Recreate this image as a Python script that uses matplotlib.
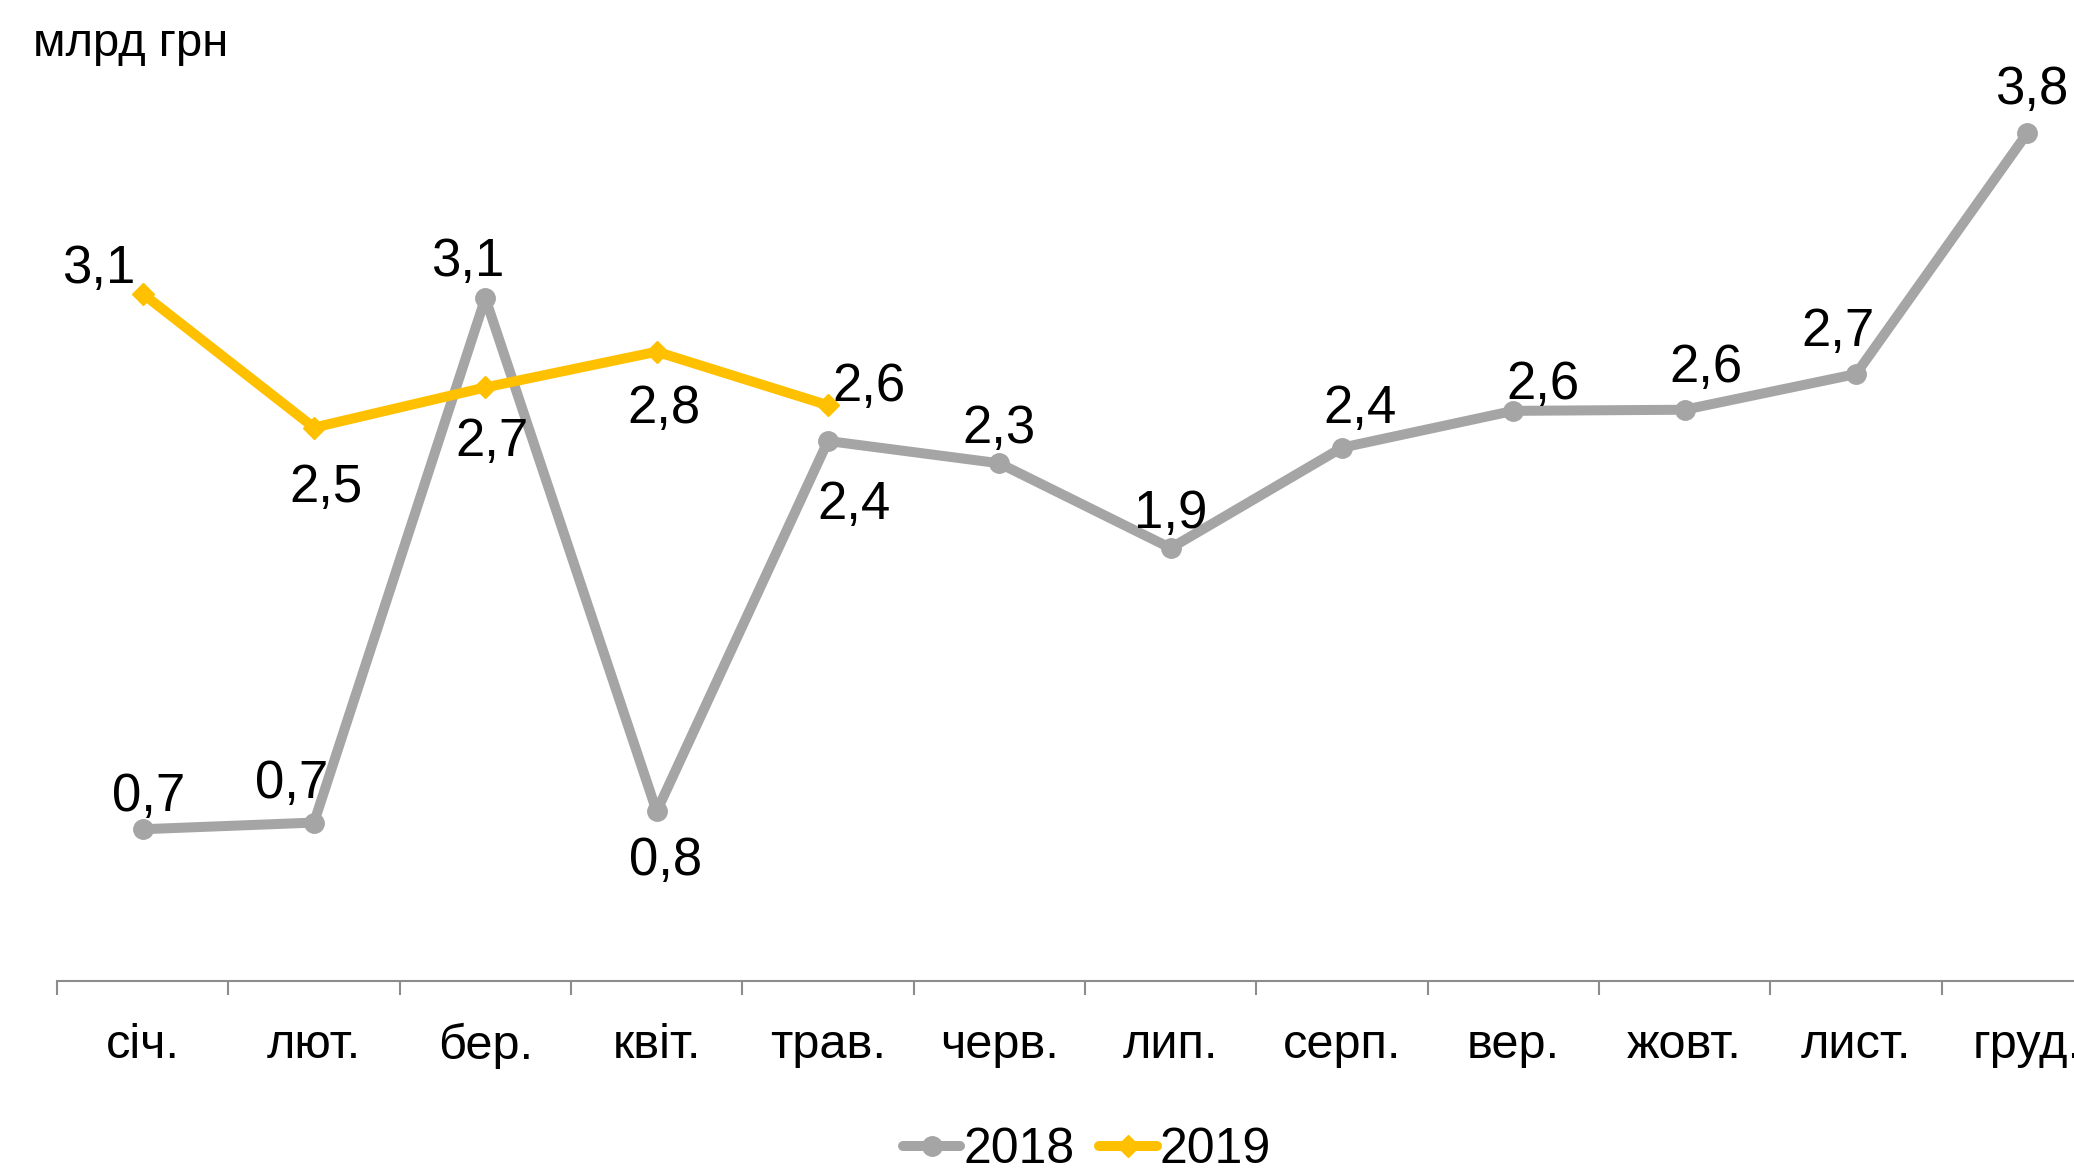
import numpy as np
import matplotlib
matplotlib.use("Agg")
import matplotlib.pyplot as plt

plt.rcParams['font.family'] = ['Liberation Sans', 'DejaVu Sans']

# Data (billions UAH)
months = ['січ.', 'лют.', 'бер.', 'квіт.', 'трав.', 'черв.',
          'лип.', 'серп.', 'вер.', 'жовт.', 'лист.', 'груд.']
values_2018 = [0.68, 0.71, 3.06, 0.76, 2.42, 2.32, 1.94, 2.39, 2.555, 2.56, 2.72, 3.80]
values_2019 = [3.08, 2.48, 2.66, 2.82, 2.58]
unit_label = 'млрд грн'

# label offsets in pixels (dx, dy), dy positive = up
offs_2018 = [(6, 40), (-22, 47), (-18, 44), (9, -42), (26, -56), (0, 42),
             (0, 42), (18, 47), (30, 34), (21, 50), (-18, 50), (4, 51)]
offs_2019 = [(-44, 33), (12, -52), (7, -47), (7, -49), (41, 26)]
LABEL_SHIFT = -8  # small vertical correction for the comma descent

GRAY = '#A5A5A5'
YELLOW = '#FFC000'
FS_LABEL = 38
FS_TICK = 35
FS_TITLE = 34
FS_LEG = 36

fig = plt.figure(figsize=(20.74, 11.71), dpi=100)
ax = fig.add_axes([57 / 2074, 1 - 981 / 1171, 2056 / 2074, 892.6 / 1171])

x18 = np.arange(len(values_2018))
x19 = np.arange(len(values_2019))
ax.plot(x18, values_2018, color=GRAY, lw=7.2, marker='o', ms=14,
        solid_capstyle='round', solid_joinstyle='round', label='2018')
ax.plot(x19, values_2019, color=YELLOW, lw=7.2, marker='D', ms=11,
        solid_capstyle='round', solid_joinstyle='round', label='2019')


def fmt(v):
    return f"{v:.1f}".replace('.', ',')


for xs, vals, offs in [(x18, values_2018, offs_2018), (x19, values_2019, offs_2019)]:
    for xi, v, (dx, dy) in zip(xs, vals, offs):
        ax.annotate(fmt(v), (xi, v), xytext=(dx, dy + LABEL_SHIFT),
                    textcoords='offset pixels',
                    ha='center', va='center', fontsize=FS_LABEL, color='black')

ax.set_xlim(-0.5, 11.5)
ax.set_ylim(0, 4)
ax.set_yticks([])
for s in ['left', 'right', 'top']:
    ax.spines[s].set_visible(False)
ax.spines['bottom'].set_color('#8C8C8C')
ax.spines['bottom'].set_linewidth(1.5)

ax.set_xticks(x18)
ax.set_xticklabels(months, fontsize=FS_TICK)
ax.tick_params(axis='x', which='major', length=0, pad=30)
ax.set_xticks(np.arange(-0.5, 12, 1), minor=True)
ax.tick_params(axis='x', which='minor', length=10, width=1.5, color='#8C8C8C',
               direction='out')

fig.text(33 / 2074, 1 - 44 / 1171, unit_label, fontsize=FS_TITLE, ha='left', va='center')

fig.legend(loc='center', bbox_to_anchor=(1087 / 2074, 1 - 1150 / 1171), ncol=2,
           frameon=False, fontsize=FS_LEG, handlelength=1.15, handletextpad=0.06,
           columnspacing=0.5, borderpad=0, borderaxespad=0)

fig.savefig('out.png', dpi=100)
